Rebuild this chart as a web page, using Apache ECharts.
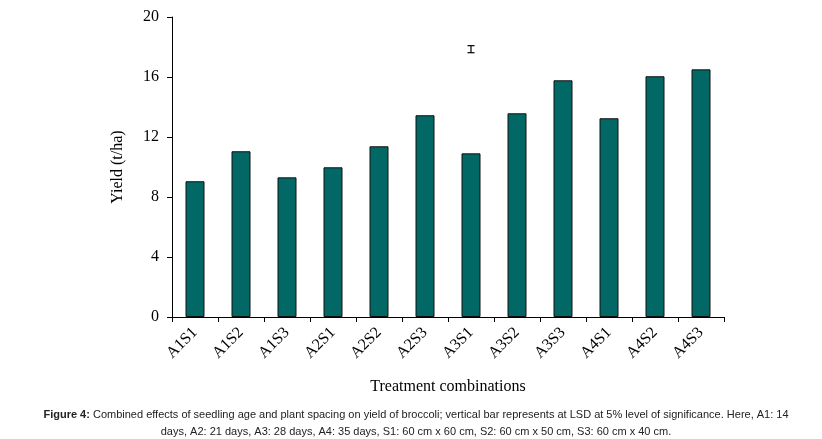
<!DOCTYPE html>
<html><head><meta charset="utf-8">
<script src="https://cdn.jsdelivr.net/npm/echarts@6/dist/echarts.min.js"></script>
<style>html,body{margin:0;padding:0;background:#fff}#c{width:822px;height:439px}</style>
</head><body><div id="c"></div>
<script>
const categories = ['A1S1','A1S2','A1S3','A2S1','A2S2','A2S3','A3S1','A3S2','A3S3','A4S1','A4S2','A4S3'];
const yieldValues = [9.05, 11.05, 9.31, 9.98, 11.38, 13.45, 10.91, 13.58, 15.78, 13.25, 16.05, 16.51];
const yTicks = [0, 4, 8, 12, 16, 20];
const lsdBar = [['A3S1', 17.62, 18.09]];

const chart = echarts.init(document.getElementById('c'));
const serif = '"Liberation Serif", "Times New Roman", serif';
chart.setOption({
  animation: false,
  grid: { left: 172, right: 98, top: 17, bottom: 122, containLabel: false },
  title: {
    text: '{b|Figure 4:} Combined effects of seedling age and plant spacing on yield of broccoli; vertical bar represents at LSD at 5% level of significance. Here, A1: 14\ndays, A2: 21 days, A3: 28 days, A4: 35 days, S1: 60 cm x 60 cm, S2: 60 cm x 50 cm, S3: 60 cm x 40 cm.',
    left: 411, top: 401, textAlign: 'center',
    textStyle: {
      fontFamily: '"Liberation Sans", sans-serif',
      fontSize: 11, fontWeight: 'normal', color: '#222', lineHeight: 17, align: 'center',
      rich: { b: { fontWeight: 'bold', fontSize: 11, fontFamily: '"Liberation Sans", sans-serif', color: '#222' } }
    }
  },
  xAxis: {
    type: 'category', data: categories,
    name: 'Treatment combinations', nameLocation: 'middle', nameGap: 62,
    nameTextStyle: { fontFamily: serif, fontSize: 16, color: '#000' },
    axisLine: { lineStyle: { color: '#000', width: 1 } },
    axisTick: { show: true, length: 5, lineStyle: { color: '#000' } },
    axisLabel: { rotate: 45, fontFamily: serif, fontSize: 16, color: '#000', margin: 13 }
  },
  yAxis: {
    type: 'value', min: 0, max: 20, interval: 4,
    name: 'Yield (t/ha)', nameLocation: 'middle', nameGap: 46,
    nameTextStyle: { fontFamily: serif, fontSize: 16, color: '#000' },
    axisLine: { show: true, lineStyle: { color: '#000', width: 1 } },
    axisTick: { show: true, length: 5, lineStyle: { color: '#000' } },
    axisLabel: { fontFamily: serif, fontSize: 16, color: '#000', margin: 13,
      formatter: v => yTicks.includes(v) ? String(v) : '' },
    splitLine: { show: false }
  },
  series: [
    {
      type: 'bar', data: yieldValues, barWidth: 19,
      itemStyle: { color: '#016865', borderColor: '#111', borderWidth: 1 }
    },
    {
      type: 'custom', data: lsdBar,
      renderItem: function (params, api) {
        const x = api.coord([api.value(0), api.value(1)])[0];
        const lo = api.coord([api.value(0), api.value(1)])[1];
        const hi = api.coord([api.value(0), api.value(2)])[1];
        const w = 3.5;
        const st = { stroke: '#000', lineWidth: 1.2 };
        return { type: 'group', children: [
          { type: 'line', shape: { x1: x, y1: lo, x2: x, y2: hi }, style: st },
          { type: 'line', shape: { x1: x - w, y1: lo, x2: x + w, y2: lo }, style: st },
          { type: 'line', shape: { x1: x - w, y1: hi, x2: x + w, y2: hi }, style: st }
        ]};
      },
      encode: { x: 0, y: [1, 2] }
    }
  ]
});
</script></body></html>
